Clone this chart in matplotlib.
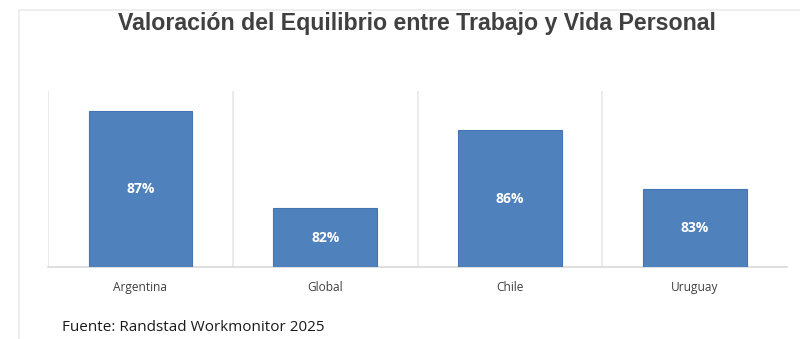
import matplotlib.pyplot as plt
from matplotlib.lines import Line2D

# datos
paises = ['Argentina', 'Global', 'Chile', 'Uruguay']
valores = [87, 82, 86, 83]
etiquetas = ['87%', '82%', '86%', '83%']

titulo = 'Valoración del Equilibrio entre Trabajo y Vida Personal'
fuente = 'Fuente: Randstad Workmonitor 2025'

fig = plt.figure(figsize=(8, 3.39), dpi=100)
ax = fig.add_axes([0.06, 0.2124, 0.924, 0.5192])

x = range(len(paises))
barras = ax.bar(x, valores, width=0.56, color='#4f81bd', edgecolor='#4474b4',
                linewidth=0.8, zorder=3)

ax.set_ylim(79, 88)
ax.set_xlim(-0.5, len(paises) - 0.5)

# lineas verticales entre categorias
for xv in [-0.5, 0.5, 1.5, 2.5]:
    ax.axvline(xv, color='#e6e6e6', lw=1.2, zorder=1)

for b, et in zip(barras, etiquetas):
    ymid = (79 + b.get_height()) / 2
    ax.text(b.get_x() + b.get_width() / 2, ymid, et, ha='center', va='center',
            color='white', fontsize=10, fontweight='bold', family='Open Sans', zorder=4)

ax.set_xticks(list(x))
ax.set_xticklabels(paises, family='Open Sans', fontsize=8.6, color='#404040')
ax.tick_params(axis='x', length=0, pad=10)
ax.set_yticks([])

for s in ['top', 'right', 'left']:
    ax.spines[s].set_visible(False)
ax.spines['bottom'].set_color('#d9d9d9')
ax.spines['bottom'].set_linewidth(1.2)

fig.text(0.5215, 0.93, titulo, ha='center', va='center', fontsize=16.7,
         fontweight='bold', color='#404040', family='Liberation Sans')
fig.text(0.077, 0.035, fuente, ha='left', va='center', fontsize=11,
         color='#1a1a1a', family='Open Sans')

# marco exterior
fig.add_artist(Line2D([0.024, 1.0], [0.97, 0.97], transform=fig.transFigure,
                      color='#ebebeb', lw=1.2))
fig.add_artist(Line2D([0.024, 0.024], [0.0, 0.97], transform=fig.transFigure,
                      color='#ebebeb', lw=1.2))

fig.savefig('out.png', dpi=100)
